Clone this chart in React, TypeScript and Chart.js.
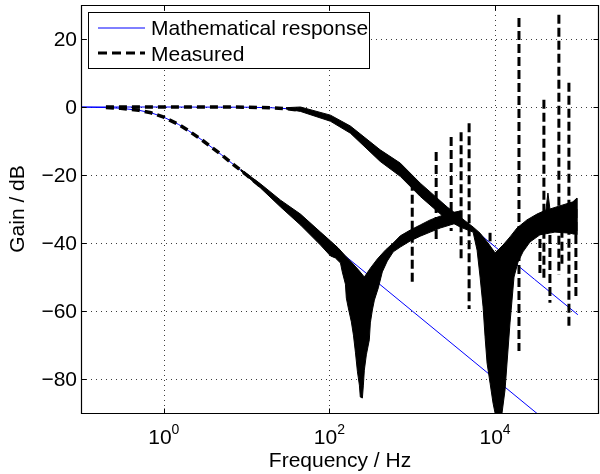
import React, { useEffect, useRef } from 'react';
import { Chart, registerables } from 'chart.js';

Chart.register(...registerables);

// ---- axis / tick values ----
const xTickValues = [1, 100, 10000];
const xTickExponents = ['0', '2', '4'];
const yTickValues = [-80, -60, -40, -20, 0, 20];
const yTickLabels = ['\u221280', '\u221260', '\u221240', '\u221220', '0', '20'];
const legendLabels = ['Mathematical response', 'Measured'];

// ---- mathematical responses (Hz, dB) ----
const mathFreq1 = [0.1, 0.2, 0.3, 0.5, 0.7, 1, 1.5, 2, 3, 5, 7, 10, 20, 50, 100, 1000, 10000, 100000];
const mathGain1 = [-0.04, -0.17, -0.37, -0.97, -1.7, -3.0, -5.1, -7.0, -10.0, -14.1, -17.0, -20.0, -26.0, -34.0, -40.0, -60.0, -80.0, -100.0];
const mathFreq2 = [0.1, 1, 10, 20, 30, 50, 70, 88, 120, 150, 200, 300, 500, 1000, 3000, 10000, 30000, 100000];
const mathGain2 = [0, 0, -0.06, -0.22, -0.48, -1.23, -2.1, -3.0, -4.6, -5.9, -8.0, -11.1, -15.2, -21.1, -30.7, -41.1, -50.7, -61.1];

// ---- measured, clean low-frequency parts (Hz, dB) ----
const measFreq1 = [0.2, 0.3, 0.5, 0.7, 1, 1.5, 2, 3, 5, 7, 10, 14.7];
const measGain1 = [-0.17, -0.37, -0.97, -1.7, -3.0, -5.1, -7.0, -10.0, -14.1, -17.0, -20.0, -23.3];
const measFreq2 = [0.2, 1, 5, 10, 20, 30, 45];
const measGain2 = [0, 0, -0.01, -0.05, -0.22, -0.48, -1.0];

// ---- measured, noisy band around the low-cutoff response ----
const bandAUpperFreq = [8.5, 14.7, 25.7, 44.7, 78, 103, 128, 156, 189, 224, 264, 312, 379, 473, 590, 717, 946, 1249, 1648, 2175, 2870, 3788];
const bandAUpperGain = [-18.3, -22.6, -27.4, -31.5, -36.8, -39.4, -41.5, -43.8, -45.9, -47.9, -50.0, -47.4, -44.7, -42.1, -40.0, -37.9, -36.2, -34.7, -33.2, -32.1, -31.2, -30.6];
const bandALowerFreq = [8.5, 14.7, 25.7, 44.7, 78, 103, 118, 136, 143, 156, 160, 169, 184, 195, 206, 218, 230, 236, 250, 257, 264, 279, 303, 312, 330, 349, 389, 435, 500, 590, 717, 946, 1249, 1648, 2175, 2870, 3788];
const bandALowerGain = [-18.8, -23.8, -29.4, -34.7, -40.6, -43.8, -44.4, -45.9, -48.5, -52.1, -56.2, -59.1, -63.2, -67.1, -72.1, -77.9, -81.8, -85.3, -85.6, -81.8, -77.4, -72.9, -68.5, -63.5, -59.7, -56.8, -53.2, -48.5, -45.3, -42.6, -41.2, -39.4, -38.0, -36.8, -35.6, -34.7, -33.8];

// ---- measured, noisy band around the high-cutoff response ----
const bandBUpperFreq = [30, 44.7, 103, 179, 410, 717, 1249, 2641, 5431, 6597, 8236, 10000, 12490, 15160, 18410, 24300, 32070, 41160, 43500, 46000, 65970, 87060, 97270];
const bandBUpperGain = [-0.2, 0.0, -2.4, -5.6, -12.6, -16.5, -22.4, -29.4, -35.3, -37.1, -40.0, -42.9, -40.6, -38.2, -35.6, -33.2, -31.5, -30.3, -25.3, -30.0, -28.8, -27.9, -26.8];
const bandBLowerFreq = [30, 44.7, 103, 179, 410, 717, 1249, 2641, 3788, 5431, 6069, 6597, 7169, 7577, 8010, 8706, 9461, 10000, 12140, 13200, 13950, 15160, 16030, 16940, 18930, 21750, 26410, 34850, 52840, 80100, 97270];
const bandBLowerGain = [-0.6, -1.3, -4.2, -7.7, -16.0, -20.4, -26.3, -33.2, -35.3, -36.8, -42.1, -50.0, -58.8, -67.6, -75.3, -81.2, -87.1, -90, -90, -83.2, -75.3, -63.5, -56.8, -50.0, -45.6, -42.6, -39.7, -37.6, -36.8, -37.1, -37.6];

// ---- measured spikes (Hz, top dB, bottom dB) ----
const spikeFreq = [1000, 1945, 2950, 3890, 4860, 8700, 19450, 34850, 38900, 46000, 59000, 64200, 78000, 94700];
const spikeTop = [-22.0, -13.2, -8.8, -7.4, -4.8, -37.0, 26.2, -35.0, 2.1, -30.0, 27.1, -32.0, 7.1, -30.0];
const spikeBottom = [-51.5, -39.7, -36.5, -45.3, -59.4, -39.5, -71.8, -48.8, -50.3, -57.6, -49.4, -47.0, -65.0, -55.9];

const FONT = '"Liberation Sans", Arial, Helvetica, sans-serif';
const BLUE = '#0000ff';

const pts = (fs: number[], gs: number[]) => fs.map((f, i) => ({ x: f, y: gs[i] }));
const poly = (uf: number[], ug: number[], lf: number[], lg: number[]) => [
  ...pts(uf, ug),
  ...pts(lf, lg).reverse(),
];

const decor = {
  id: 'decor',
  beforeDatasetsDraw(chart: any) {
    const { ctx, chartArea: a, scales } = chart;
    const xs = scales.x;
    const ys = scales.y;
    ctx.save();
    ctx.strokeStyle = '#3c3c3c';
    ctx.lineWidth = 1;
    ctx.setLineDash([1, 4]);
    for (const v of xTickValues) {
      const px = Math.round(xs.getPixelForValue(v)) + 0.5;
      ctx.beginPath();
      ctx.moveTo(px, a.top);
      ctx.lineTo(px, a.bottom);
      ctx.stroke();
    }
    for (const v of yTickValues) {
      const py = Math.round(ys.getPixelForValue(v)) + 0.5;
      ctx.beginPath();
      ctx.moveTo(a.left, py);
      ctx.lineTo(a.right, py);
      ctx.stroke();
    }
    ctx.restore();
  },
  afterDatasetsDraw(chart: any) {
    const { ctx, chartArea: a, scales } = chart;
    const xs = scales.x;
    const ys = scales.y;
    ctx.save();
    // frame
    ctx.setLineDash([]);
    ctx.strokeStyle = '#000';
    ctx.lineWidth = 1.2;
    const L = a.left + 0.5, R = a.right - 0.5, T = a.top + 0.5, B = a.bottom + 0.5;
    ctx.beginPath();
    ctx.moveTo(L, T); ctx.lineTo(R, T); ctx.lineTo(R, B); ctx.lineTo(L, B); ctx.closePath();
    ctx.stroke();
    // ticks
    ctx.lineWidth = 1;
    for (const v of xTickValues) {
      const px = Math.round(xs.getPixelForValue(v)) + 0.5;
      ctx.beginPath();
      ctx.moveTo(px, B); ctx.lineTo(px, B - 5);
      ctx.moveTo(px, T); ctx.lineTo(px, T + 5);
      ctx.stroke();
    }
    for (const v of yTickValues) {
      const py = Math.round(ys.getPixelForValue(v)) + 0.5;
      ctx.beginPath();
      ctx.moveTo(L, py); ctx.lineTo(L + 5, py);
      ctx.moveTo(R, py); ctx.lineTo(R - 5, py);
      ctx.stroke();
    }
    // y tick labels
    ctx.fillStyle = '#000';
    ctx.font = `21px ${FONT}`;
    ctx.textAlign = 'right';
    ctx.textBaseline = 'middle';
    yTickValues.forEach((v, i) => {
      ctx.fillText(yTickLabels[i], a.left - 4, ys.getPixelForValue(v) + 1);
    });
    // x tick labels 10^n
    ctx.textBaseline = 'alphabetic';
    ctx.textAlign = 'left';
    xTickValues.forEach((v, i) => {
      const px = xs.getPixelForValue(v);
      ctx.font = `21px ${FONT}`;
      const wb = ctx.measureText('10').width;
      ctx.font = `14px ${FONT}`;
      const we = ctx.measureText(xTickExponents[i]).width;
      const start = px - (wb + we) / 2;
      ctx.font = `21px ${FONT}`;
      ctx.fillText('10', start, 444);
      ctx.font = `14px ${FONT}`;
      ctx.fillText(xTickExponents[i], start + wb, 434);
    });
    // axis titles
    ctx.font = `21px ${FONT}`;
    ctx.textAlign = 'center';
    ctx.fillText('Frequency / Hz', (a.left + a.right) / 2, 467);
    ctx.save();
    ctx.translate(24, (a.top + a.bottom) / 2);
    ctx.rotate(-Math.PI / 2);
    ctx.fillText('Gain / dB', 0, 0);
    ctx.restore();
    // legend
    ctx.fillStyle = '#fff';
    ctx.fillRect(88.5, 12.5, 281, 56);
    ctx.strokeStyle = '#000';
    ctx.lineWidth = 1;
    ctx.strokeRect(88.5, 12.5, 281, 56);
    ctx.strokeStyle = BLUE;
    ctx.lineWidth = 1;
    ctx.beginPath();
    ctx.moveTo(98, 28); ctx.lineTo(145, 28);
    ctx.stroke();
    ctx.strokeStyle = '#000';
    ctx.lineWidth = 3;
    ctx.setLineDash([9, 5]);
    ctx.beginPath();
    ctx.moveTo(98, 53); ctx.lineTo(145, 53);
    ctx.stroke();
    ctx.setLineDash([]);
    ctx.fillStyle = '#000';
    ctx.textAlign = 'left';
    ctx.font = `21px ${FONT}`;
    ctx.fillText(legendLabels[0], 151, 35);
    ctx.fillText(legendLabels[1], 151, 61);
    ctx.restore();
  },
};

export default function App() {
  const ref = useRef<HTMLCanvasElement>(null);
  useEffect(() => {
    const lineBase = { showLine: true, pointRadius: 0, tension: 0, fill: false, clip: 0 };
    const datasets: any[] = [
      { ...lineBase, label: 'math1', data: pts(mathFreq1, mathGain1), borderColor: BLUE, borderWidth: 1, order: 10 },
      { ...lineBase, label: 'math2', data: pts(mathFreq2, mathGain2), borderColor: BLUE, borderWidth: 1, order: 10 },
      { ...lineBase, label: 'meas1', data: pts(measFreq1, measGain1), borderColor: '#000', borderWidth: 3.5, borderDash: [8, 5], order: 1 },
      { ...lineBase, label: 'meas2', data: pts(measFreq2, measGain2), borderColor: '#000', borderWidth: 3.5, borderDash: [8, 5], order: 1 },
      {
        ...lineBase, label: 'bandA', data: poly(bandAUpperFreq, bandAUpperGain, bandALowerFreq, bandALowerGain),
        borderColor: '#000', backgroundColor: '#000', borderWidth: 1, fill: 'shape', order: 1,
      },
      {
        ...lineBase, label: 'bandB', data: poly(bandBUpperFreq, bandBUpperGain, bandBLowerFreq, bandBLowerGain),
        borderColor: '#000', backgroundColor: '#000', borderWidth: 1, fill: 'shape', order: 1,
      },
      ...spikeFreq.map((f, i) => ({
        ...lineBase, label: 'spike' + i,
        data: [{ x: f, y: spikeTop[i] }, { x: f, y: spikeBottom[i] }],
        borderColor: '#000', borderWidth: 3, borderDash: [9, 4], order: 0,
      })),
    ];
    const chart = new Chart(ref.current as HTMLCanvasElement, {
      type: 'scatter',
      data: { datasets },
      options: {
        responsive: false,
        animation: false,
        events: [],
        layout: { padding: { left: 0, right: 1, top: 5, bottom: 0 } },
        plugins: { legend: { display: false }, tooltip: { enabled: false } },
        scales: {
          x: {
            type: 'logarithmic', min: 0.1, max: 180000,
            grid: { display: false }, border: { display: false }, ticks: { display: false },
            afterFit: (s: any) => { s.height = 61; },
          },
          y: {
            type: 'linear', min: -90, max: 30,
            grid: { display: false }, border: { display: false }, ticks: { display: false },
            afterFit: (s: any) => { s.width = 81; },
          },
        },
      },
      plugins: [decor],
    } as any);
    return () => chart.destroy();
  }, []);
  return (
    <div style={{ position: 'absolute', left: 0, top: 0, width: 600, height: 474, background: '#fff' }}>
      <canvas ref={ref} width={600} height={474} style={{ display: 'block', width: 600, height: 474 }} />
    </div>
  );
}
